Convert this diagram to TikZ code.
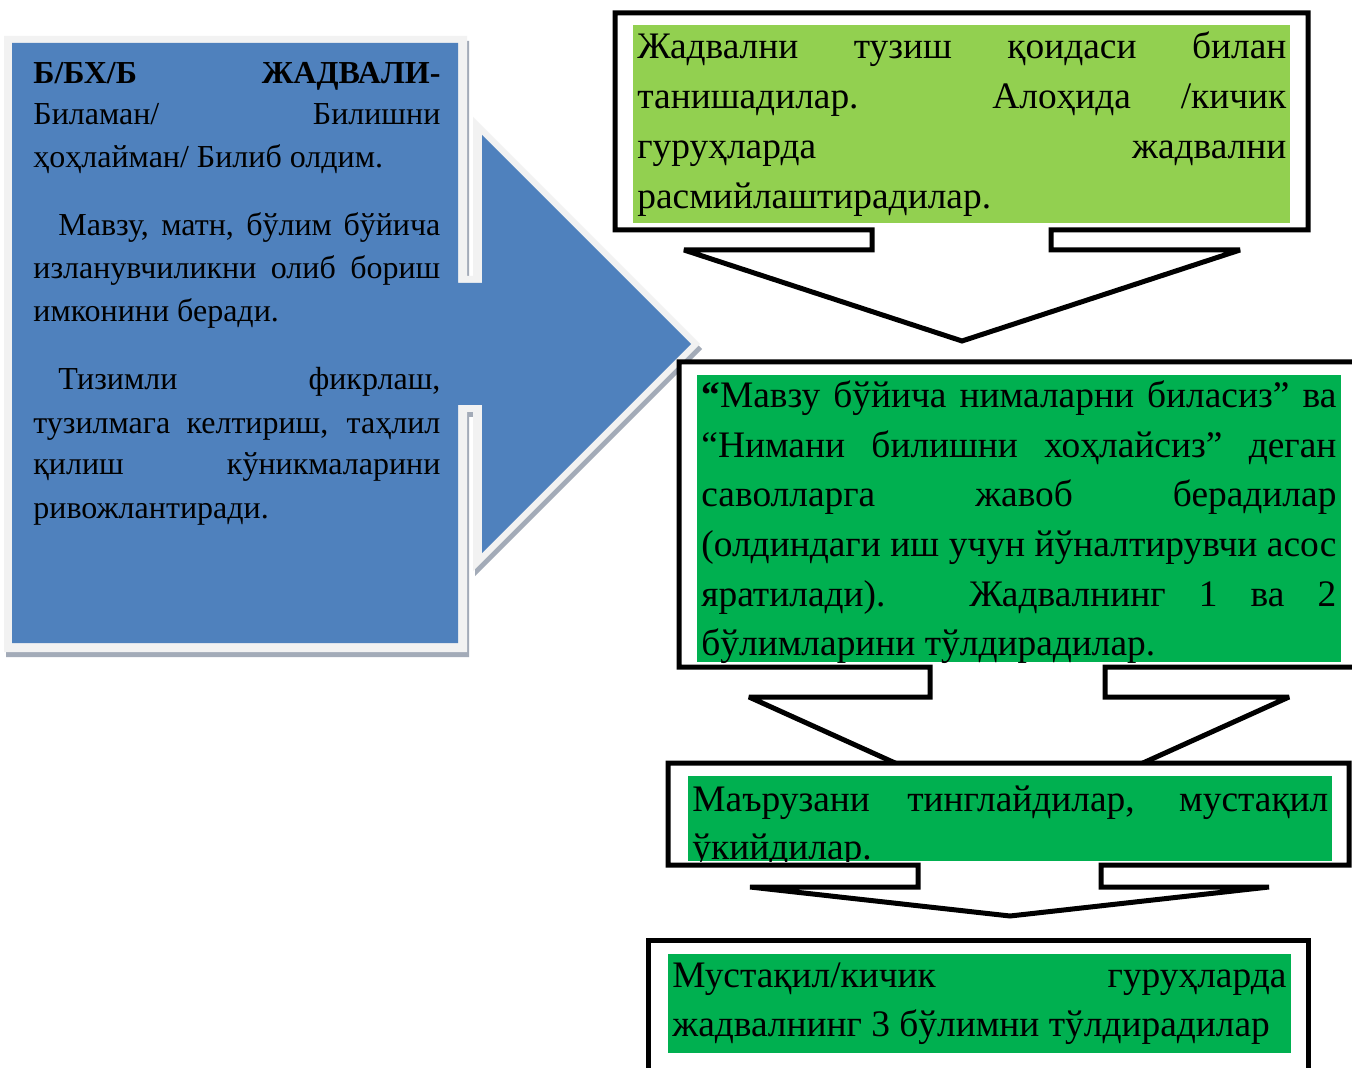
\documentclass[tikz,border=0pt]{standalone}
\usepackage{fontspec}
\setmainfont{Liberation Serif}
\definecolor{blueA}{HTML}{4F81BD}
\definecolor{frameA}{HTML}{F2F2F2}
\definecolor{shadowA}{HTML}{A3ABB8}
\definecolor{lgreen}{HTML}{92D050}
\definecolor{dgreen}{HTML}{00B050}
\tikzset{
  callout/.style={draw=black, line width=2.5pt, fill=white, line join=miter, miter limit=2},
  rtext/.style={anchor=base west, inner sep=0pt, font=\fontsize{18.7}{18.7}\selectfont},
  ltext/.style={anchor=base west, inner sep=0pt, font=\fontsize{16}{16}\selectfont},
}
\newcommand{\jline}[2]{\makebox[#1][s]{#2}}
\begin{document}
\begin{tikzpicture}[x=0.5pt,y=-0.5pt]
\clip (0,0) rectangle (1352,1068);
\fill[white] (0,0) rectangle (1352,1068);
% ---- left blue callout
\fill[shadowA] ([shift={(2,5)}]4,36) -- ([shift={(2,5)}]467,36) -- ([shift={(2,5)}]467,276) -- ([shift={(2,5)}]473,276) -- ([shift={(2,5)}]473,117) -- ([shift={(2,5)}]700,344) -- ([shift={(2,5)}]473,571) -- ([shift={(2,5)}]473,412) -- ([shift={(2,5)}]467,412) -- ([shift={(2,5)}]467,652) -- ([shift={(2,5)}]4,652) -- cycle;
\fill[frameA] (4,36) -- (467,36) -- (467,276) -- (473,276) -- (473,117) -- (700,344) -- (473,571) -- (473,412) -- (467,412) -- (467,652) -- (4,652) -- cycle;
\fill[blueA] (12,43) -- (458,43) -- (458,283) -- (482,283) -- (482,135) -- (691,344) -- (482,553) -- (482,405) -- (458,405) -- (458,643) -- (12,643) -- cycle;
\node[ltext] (l1) at (33,84) {\jline{203.5pt}{\bfseries Б/БХ/Б ЖАДВАЛИ-}};
\node[ltext] (l2) at (33,125) {\jline{203.5pt}{Биламан/ Билишни}};
\node[ltext] (l3) at (33,168) {ҳоҳлайман/ Билиб олдим.};
\node[ltext] (l4) at (58,236) {\jline{191pt}{Мавзу, матн, бўлим бўйича}};
\node[ltext] (l5) at (33,279) {\jline{203.5pt}{изланувчиликни олиб бориш}};
\node[ltext] (l6) at (33,322) {имконини беради.};
\node[ltext] (l7) at (58,390) {\jline{191pt}{Тизимли фикрлаш,}};
\node[ltext] (l8) at (33,434) {\jline{203.5pt}{тузилмага келтириш, таҳлил}};
\node[ltext] (l9) at (33,475) {\jline{203.5pt}{қилиш кўникмаларини}};
\node[ltext] (l10) at (33,518) {ривожлантиради.};
% ---- box 1
\draw[callout] (615,13) -- (1308,13) -- (1308,230) -- (1051,230) -- (1051,250) -- (1240,250) -- (962,341) -- (684,250) -- (872,250) -- (872,230) -- (615,230) -- cycle;
\fill[lgreen] (633,25) rectangle (1290,223);
\node[rtext] (a1) at (637,59) {\jline{324.5pt}{Жадвални тузиш қоидаси билан}};
\node[rtext] (a2) at (637,109) {\jline{324.5pt}{танишадилар. Алоҳида /кичик}};
\node[rtext] (a3) at (637,159) {\jline{324.5pt}{гуруҳларда жадвални}};
\node[rtext] (a4) at (637,209) {расмийлаштирадилар.};
% ---- box 2
\draw[callout] (679,362) -- (1400,362) -- (1400,667) -- (1105,667) -- (1105,697) -- (1289,697) -- (1019,819) -- (749,697) -- (930,697) -- (930,667) -- (679,667) -- cycle;
\fill[dgreen] (697,375) rectangle (1341,662);
\node[rtext] (b1) at (701,408) {\jline{317.5pt}{\textbf{“}Мавзу бўйича нималарни биласиз” ва}};
\node[rtext] (b2) at (701,457.5) {\jline{317.5pt}{“Нимани билишни хоҳлайсиз” деган}};
\node[rtext] (b3) at (701,507) {\jline{317.5pt}{саволларга жавоб берадилар}};
\node[rtext] (b4) at (701,556) {\jline{317.5pt}{(олдиндаги иш учун йўналтирувчи асос}};
\node[rtext] (b5) at (701,606) {\jline{317.5pt}{яратилади). Жадвалнинг 1 ва 2}};
\node[rtext] (b6) at (701,655) {бўлимларини тўлдирадилар.};
% ---- box 3
\draw[callout] (668,763) -- (1349,763) -- (1349,865) -- (1101,865) -- (1101,887) -- (1269,887) -- (1010,916) -- (750,887) -- (918,887) -- (918,865) -- (668,865) -- cycle;
\fill[dgreen] (688,776) rectangle (1332,861);
\begin{scope}
\clip (688,776) rectangle (1332,861);
\node[rtext] (c1) at (692,811) {\jline{318pt}{Маърузани тинглайдилар, мустақил}};
\node[rtext] (c2) at (692,859) {ўкийдилар.};
\end{scope}
% ---- box 4
\draw[callout] (648,940) rectangle (1308,1120);
\fill[dgreen] (668,954) rectangle (1291,1053);
\node[rtext] (d1) at (672,987) {\jline{307pt}{Мустақил/кичик гуруҳларда}};
\node[rtext] (d2) at (672,1036) {жадвалнинг 3 бўлимни тўлдирадилар};
\end{tikzpicture}
\end{document}
